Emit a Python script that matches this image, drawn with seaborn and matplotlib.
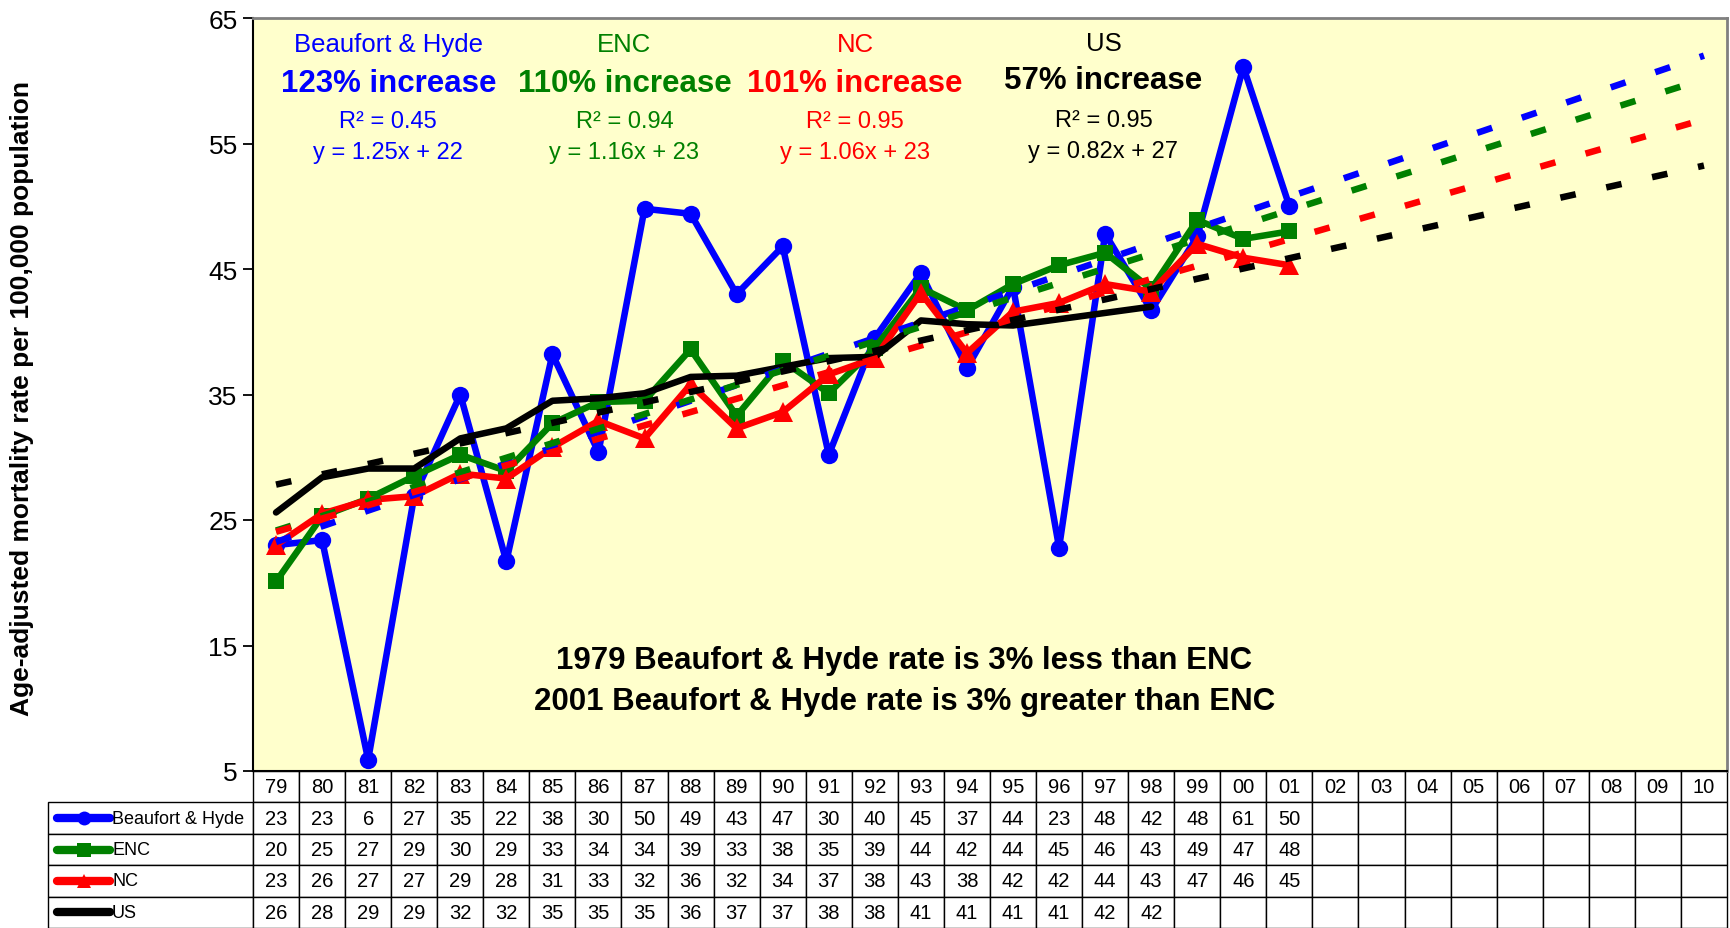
import numpy as np
import pandas as pd
import matplotlib
matplotlib.use("Agg")
import matplotlib.pyplot as plt
import seaborn as sb
from matplotlib.lines import Line2D

# ---- data ----
years = ["79", "80", "81", "82", "83", "84", "85", "86", "87", "88", "89", "90",
         "91", "92", "93", "94", "95", "96", "97", "98", "99", "00", "01", "02",
         "03", "04", "05", "06", "07", "08", "09", "10"]

beaufort_hyde = [23.0, 23.4, 5.9, 26.9, 35.0, 21.7, 38.2, 30.4, 49.8, 49.4, 43.0, 46.8,
                 30.2, 39.5, 44.7, 37.1, 43.6, 22.8, 47.8, 41.7, 47.6, 61.1, 50.0]
enc = [20.1, 25.3, 26.7, 28.5, 30.2, 28.9, 32.7, 34.4, 34.5, 38.6, 33.3, 37.7,
       35.1, 38.7, 43.5, 41.7, 43.8, 45.3, 46.3, 43.4, 48.9, 47.4, 48.0]
nc = [23.0, 25.5, 26.6, 26.9, 28.7, 28.3, 30.8, 32.9, 31.5, 35.8, 32.3, 33.6,
      36.6, 37.9, 43.1, 38.3, 41.6, 42.3, 43.8, 43.2, 47.0, 45.9, 45.3]
us = [25.6, 28.4, 29.1, 29.1, 31.5, 32.3, 34.5, 34.7, 35.1, 36.4, 36.5, 37.2,
      37.9, 38.0, 40.9, 40.6, 40.5, 41.0, 41.5, 42.0]

table_bh = ["23", "23", "6", "27", "35", "22", "38", "30", "50", "49", "43", "47",
            "30", "40", "45", "37", "44", "23", "48", "42", "48", "61", "50"]
table_enc = ["20", "25", "27", "29", "30", "29", "33", "34", "34", "39", "33", "38",
             "35", "39", "44", "42", "44", "45", "46", "43", "49", "47", "48"]
table_nc = ["23", "26", "27", "27", "29", "28", "31", "33", "32", "36", "32", "34",
            "37", "38", "43", "38", "42", "42", "44", "43", "47", "46", "45"]
table_us = ["26", "28", "29", "29", "32", "32", "35", "35", "35", "36", "37", "37",
            "38", "38", "41", "41", "41", "41", "42", "42"]

series_names = ["Beaufort & Hyde", "ENC", "NC", "US"]
colors = ["#0000FF", "#008000", "#FF0000", "#000000"]
markers = ["o", "s", "^", None]
marker_sizes = [12.5, 12, 14, 0]
slopes = [1.25, 1.16, 1.06, 0.82]
intercepts = [22, 23, 23, 27]
increases = ["123% increase", "110% increase", "101% increase", "57% increase"]
r2_values = ["0.45", "0.94", "0.95", "0.95"]

sb.set_style("white")
plt.rcParams['font.family'] = ['Liberation Sans', 'DejaVu Sans']
plt.rcParams['text.color'] = 'black'
plt.rcParams['ytick.color'] = 'black'
plt.rcParams['ytick.labelcolor'] = 'black'

fig = plt.figure(figsize=(17.3, 9.29), dpi=100)
ax = fig.add_axes([253 / 1730, 1 - 772 / 929, 1474 / 1730, 753 / 929])
ax.set_facecolor("#FFFFCC")

n = len(years)
x_all = np.arange(n)
all_series = [beaufort_hyde, enc, nc, us]

# series lines
for vals, col, mk, ms in zip(all_series, colors, markers, marker_sizes):
    df = pd.DataFrame({"x": np.arange(len(vals)), "y": vals})
    kw = dict(marker=mk, markersize=ms, markeredgewidth=0) if mk else {}
    sb.lineplot(data=df, x="x", y="y", color=col, lw=4.7, ax=ax, zorder=3, **kw)

# trendlines from the fitted equations, x = 1 .. 32
for sl, ic, col in zip(slopes, intercepts, colors):
    df = pd.DataFrame({"x": x_all, "y": sl * (x_all + 1) + ic})
    sb.lineplot(data=df, x="x", y="y", color=col, lw=4.7, ax=ax, zorder=4,
                linestyle=(0, (2.4, 4.8)))

ax.set_xlim(-0.5, n - 0.5)
ax.set_ylim(5, 65)
ax.set_yticks(range(5, 66, 10))
ax.set_xticks([])
ax.set_xlabel("")
ax.set_ylabel("")
ax.tick_params(axis="y", labelsize=19, length=7, width=1.3, direction="out", pad=4, left=True)
for side in ["left", "bottom"]:
    ax.spines[side].set_color("black")
    ax.spines[side].set_linewidth(1.5)
for side in ["top", "right"]:
    ax.spines[side].set_color("#808080")
    ax.spines[side].set_linewidth(2)

fig.text(0.013, 0.571, "Age-adjusted mortality rate per 100,000 population",
         rotation=90, ha="center", va="center", fontsize=19, fontweight="bold")

# annotations
xs = [0.0918, 0.252, 0.4085, 0.577]
for i, (name, col) in enumerate(zip(series_names, colors)):
    dy = 0.002 if i == 3 else 0
    ax.text(xs[i], 0.965 + dy, name, color=col, fontsize=18.5, ha="center", va="center",
            transform=ax.transAxes)
    ax.text(xs[i], 0.914 + 2 * dy, increases[i], color=col, fontsize=22.5, fontweight="bold",
            ha="center", va="center", transform=ax.transAxes)
    ax.text(xs[i], 0.863 + dy, "R² = " + r2_values[i], color=col, fontsize=17,
            ha="center", va="center", transform=ax.transAxes)
    ax.text(xs[i], 0.822 + dy, "y = %.2fx + %d" % (slopes[i], intercepts[i]), color=col,
            fontsize=17, ha="center", va="center", transform=ax.transAxes)

ax.text(0.442, 0.147, "1979 Beaufort & Hyde rate is 3% less than ENC", fontsize=22.5,
        fontweight="bold", ha="center", va="center", transform=ax.transAxes)
ax.text(0.442, 0.0934, "2001 Beaufort & Hyde rate is 3% greater than ENC", fontsize=22.5,
        fontweight="bold", ha="center", va="center", transform=ax.transAxes)

# data table below the axis; first column holds the legend labels
def pad(row):
    return [""] + row + [""] * (n - len(row))

cell_text = [pad(table_bh), pad(table_enc), pad(table_nc), pad(table_us)]
row_h = 157 / 753 / 5
label_w = 205 / 1474
tbl = ax.table(cellText=cell_text, colLabels=[""] + years, cellLoc="center",
               colWidths=[label_w] + [1.0 / n] * n,
               bbox=[-label_w, -5 * row_h, 1 + label_w, 5 * row_h])
tbl.auto_set_font_size(False)
tbl.set_fontsize(14.5)
for (r, c), cell in tbl.get_celld().items():
    cell.set_linewidth(1.0)
    cell.set_edgecolor("black")
    cell.set_facecolor("white")
    if r == 0 and c == 0:
        cell.visible_edges = ""
        cell.set_facecolor("none")

for i, (name, col, mk) in enumerate(zip(series_names, colors, markers)):
    yc = -(i + 1.5) * row_h
    x0 = (57 - 253) / 1474
    x1 = (110 - 253) / 1474
    ax.add_line(Line2D([x0, x1], [yc, yc], color=col, lw=6, solid_capstyle="round",
                       transform=ax.transAxes, clip_on=False))
    if mk:
        ax.add_line(Line2D([(x0 + x1) / 2], [yc], color=col, marker=mk, markersize=10,
                           mew=0, transform=ax.transAxes, clip_on=False))
    ax.text((112 - 253) / 1474, yc, name, fontsize=13, ha="left", va="center",
            transform=ax.transAxes)

fig.savefig("out.png", dpi=100, facecolor="white")
